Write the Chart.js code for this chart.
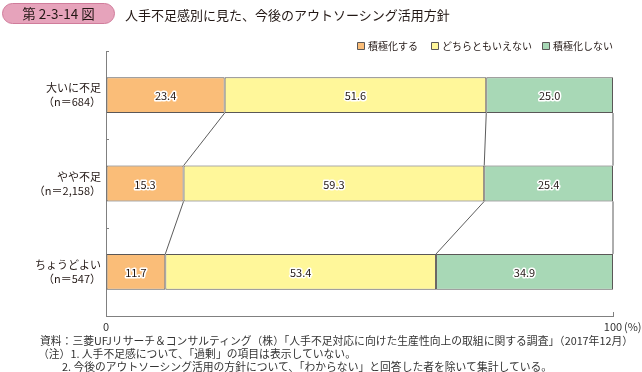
<!DOCTYPE html>
<html lang="ja">
<head>
<meta charset="utf-8">
<script src="https://cdn.jsdelivr.net/npm/chart.js@4/dist/chart.umd.min.js"></script>
<style>
  html, body { margin: 0; padding: 0; background: #fff; }
  body { width: 642px; height: 372px; position: relative; overflow: hidden;
         font-family: "Noto Sans CJK JP", "Noto Sans", sans-serif; color: #231815; }
  #wrap { position: absolute; left: 0; top: 0; width: 642px; height: 372px; }
  .banner { position: absolute; left: 2px; top: 3px; width: 113px; height: 21px;
            background: #E6A3BB; border: 1px solid #D07C9B; border-radius: 11px;
            box-sizing: border-box; font-size: 13.5px; line-height: 19px; text-align: center; }
  .title { position: absolute; left: 125px; top: 5px; font-size: 13px; line-height: 20px; white-space: nowrap; }
  .note { position: absolute; font-size: 10.8px; line-height: 12px; white-space: nowrap; color: #333; }
</style>
</head>
<body>
<div id="wrap"><canvas id="c" width="642" height="372"></canvas></div>
<div class="banner">第 2-3-14 図</div>
<div class="title">人手不足感別に見た、今後のアウトソーシング活用方針</div>
<div class="note" style="left:40px; top:334px;">資料：三菱UFJリサーチ＆コンサルティング（株）「人手不足対応に向けた生産性向上の取組に関する調査」（2017年12月）</div>
<div class="note" style="left:38px; top:347px;">（注）1. 人手不足感について、「過剰」の項目は表示していない。</div>
<div class="note" style="left:62px; top:360px;">2. 今後のアウトソーシング活用の方針について、「わからない」と回答した者を除いて集計している。</div>
<script>
// ---- data ----
const categoryNames = ["大いに不足", "やや不足", "ちょうどよい"];
const categoryN = ["（n＝684）", "（n＝2,158）", "（n＝547）"];
const seriesNames = ["積極化する", "どちらともいえない", "積極化しない"];
const expandValues = [23.4, 15.3, 11.7];
const neutralValues = [51.6, 59.3, 53.4];
const notExpandValues = [25.0, 25.4, 34.9];
const xTickValues = [0, 100];

const colors = ["#FABD78", "#FFF79A", "#A8D8B6"];
const FONT = '"Noto Sans CJK JP", "Noto Sans", sans-serif';
const AXIS = "#808080";

const labels = categoryNames.map((n, i) => [n, categoryN[i]]);
const seriesValues = [expandValues, neutralValues, notExpandValues];

const datasets = seriesValues.map((vals, i) => ({
  label: seriesNames[i],
  data: vals,
  backgroundColor: colors[i],
  borderColor: "#5a5757",
  borderWidth: 1,
  borderSkipped: false,
  categoryPercentage: 1,
  barPercentage: 0.405
}));

const helper = {
  id: "helper",
  beforeDatasetsDraw(chart) {
    const ctx = chart.ctx;
    const x = chart.scales.x, y = chart.scales.y;
    ctx.save();
    ctx.strokeStyle = AXIS;
    ctx.lineWidth = 1;
    const n = chart.data.labels.length;
    for (let i = 0; i <= n; i++) {
      const py = Math.round(y.getPixelForValue(i - 0.5)) + 0.5;
      ctx.beginPath();
      ctx.moveTo(x.left, py);
      ctx.lineTo(x.left + 3, py);
      ctx.stroke();
    }
    xTickValues.forEach(v => {
      const px = Math.round(x.getPixelForValue(v)) + 0.5;
      ctx.beginPath();
      ctx.moveTo(px, y.bottom);
      ctx.lineTo(px, y.bottom - 4);
      ctx.stroke();
    });
    ctx.restore();
  },
  afterDatasetsDraw(chart) {
    const ctx = chart.ctx;
    const x = chart.scales.x;
    const metas = chart.data.datasets.map((d, i) => chart.getDatasetMeta(i));
    const n = chart.data.labels.length;
    ctx.save();
    // series lines
    ctx.strokeStyle = "#4a4a4a";
    ctx.lineWidth = 0.9;
    for (let c = 0; c < n - 1; c++) {
      metas.forEach((m) => {
        const a = m.data[c], b = m.data[c + 1];
        ctx.beginPath();
        ctx.moveTo(a.x, a.y + a.height / 2);
        ctx.lineTo(b.x, b.y - b.height / 2);
        ctx.stroke();
      });
    }
    // value labels
    ctx.font = "11px " + FONT;
    ctx.textAlign = "center";
    ctx.textBaseline = "middle";
    ctx.lineJoin = "round";
    metas.forEach((m, di) => {
      m.data.forEach((el, i) => {
        const v = chart.data.datasets[di].data[i];
        const cx = (el.x + el.base) / 2;
        const txt = v.toFixed(1);
        ctx.strokeStyle = "#fff";
        ctx.lineWidth = 3;
        ctx.strokeText(txt, cx, el.y + 1);
        ctx.fillStyle = "#231815";
        ctx.fillText(txt, cx, el.y + 1);
      });
    });
    // "(%)" after 100
    ctx.font = "11px " + FONT;
    ctx.textAlign = "left";
    ctx.textBaseline = "middle";
    ctx.fillStyle = "#333";
    const p100 = x.getPixelForValue(100);
    ctx.fillText("(%)", p100 + 11, chart.scales.y.bottom + 11);
    // legend
    const legendX = [357, 431, 542];
    const ly = 46;
    chart.data.datasets.forEach((d, i) => {
      ctx.fillStyle = d.backgroundColor;
      ctx.fillRect(legendX[i] + 0.5, ly - 3.5, 7, 7);
      ctx.strokeStyle = "#5a5757";
      ctx.lineWidth = 1;
      ctx.strokeRect(legendX[i] + 0.5, ly - 3.5, 7, 7);
      ctx.fillStyle = "#231815";
      ctx.font = "10px " + FONT;
      ctx.fillText(d.label, legendX[i] + 11, ly + 0.5);
    });
    ctx.restore();
  }
};

new Chart(document.getElementById("c"), {
  type: "bar",
  data: { labels, datasets },
  options: {
    indexAxis: "y",
    responsive: false,
    animation: false,
    layout: { padding: { top: 51, right: 29, left: 0, bottom: 0 } },
    plugins: { legend: { display: false }, tooltip: { enabled: false } },
    scales: {
      x: {
        stacked: true, min: 0, max: 100,
        afterBuildTicks(s) { s.ticks = xTickValues.map(v => ({ value: v })); },
        afterFit(s) { s.height = 56; },
        grid: { display: true, drawOnChartArea: false, drawTicks: false },
        border: { display: true, color: AXIS, width: 1 },
        ticks: { padding: 4, color: "#333", font: { family: FONT, size: 11 },
                 callback: v => String(v) }
      },
      y: {
        stacked: true,
        afterFit(s) { s.width = 106; },
        grid: { display: true, drawOnChartArea: false, drawTicks: false },
        border: { display: true, color: AXIS, width: 1 },
        ticks: { padding: 5, color: "#231815", font: { family: FONT, size: 11, lineHeight: 1.25 } }
      }
    }
  },
  plugins: [helper]
});
</script>
</body>
</html>
